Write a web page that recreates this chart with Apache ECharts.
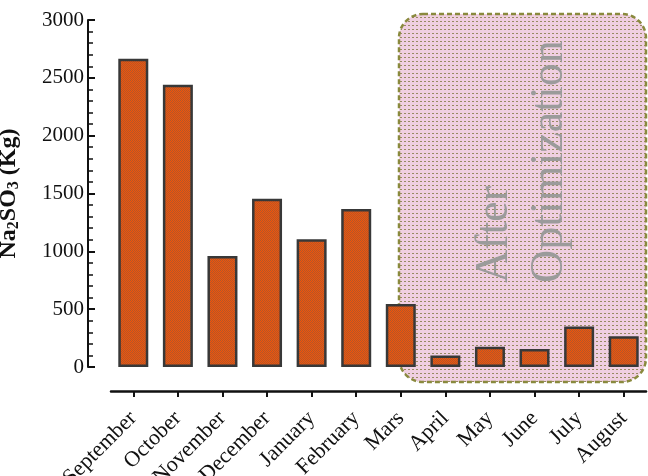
<!DOCTYPE html>
<html>
<head>
<meta charset="utf-8">
<script src="https://cdn.jsdelivr.net/npm/echarts@6/dist/echarts.min.js"></script>
<style>
  html, body { margin: 0; padding: 0; background: #fff; }
  #chart { width: 648px; height: 476px; }
</style>
</head>
<body>
<div id="chart"></div>
<script>
// Monthly sodium sulfite consumption
const months = ['September', 'October', 'November', 'December', 'January', 'February',
                'Mars', 'April', 'May', 'June', 'July', 'August'];
const na2so3Kg = [2665, 2440, 960, 1455, 1105, 1365, 545, 100, 175, 155, 350, 265];
const yTicks = [0, 500, 1000, 1500, 2000, 2500, 3000];

const SERIF = '"Liberation Serif", "Times New Roman", serif';

// Checkered orange fill for the bars
function checkerPattern() {
  const c = document.createElement('canvas');
  c.width = 2; c.height = 2;
  const g = c.getContext('2d');
  g.fillStyle = '#f0560a'; g.fillRect(0, 0, 2, 2);
  g.fillStyle = '#b4552a'; g.fillRect(0, 0, 1, 1); g.fillRect(1, 1, 1, 1);
  return c;
}

// Pink dotted fill for the highlighted period
function dotPattern() {
  const c = document.createElement('canvas');
  c.width = 4; c.height = 4;
  const g = c.getContext('2d');
  g.fillStyle = '#f0cfe1'; g.fillRect(0, 0, 4, 4);
  g.fillStyle = '#988a62'; g.fillRect(0, 1, 2, 1);
  return c;
}

const chart = echarts.init(document.getElementById('chart'), null, { renderer: 'canvas' });

chart.setOption({
  animation: false,
  backgroundColor: '#fff',
  grid: { left: 111, right: 2, top: 20, bottom: 109, containLabel: false, outerBoundsMode: 'none' },
  xAxis: {
    type: 'category',
    data: months,
    offset: 24,
    axisLine: { show: true, onZero: false, lineStyle: { color: '#111', width: 2.5 } },
    axisTick: { show: true, alignWithLabel: true, length: 6, lineStyle: { color: '#111', width: 2 } },
    axisLabel: {
      rotate: 45, margin: 24, interval: 0,
      fontFamily: SERIF, fontSize: 22, color: '#111'
    },
    splitLine: { show: false }
  },
  yAxis: {
    type: 'value',
    min: 0, max: 3000, interval: 500,
    offset: 23,
    name: '{b|Na}{s|2}{b|SO}{s|3}{b| (Kg)}',
    nameLocation: 'middle',
    nameGap: 66,
    nameRotate: 90,
    nameTextStyle: {
      rich: {
        b: { fontFamily: SERIF, fontSize: 24, fontWeight: 'bold', color: '#111' },
        s: { fontFamily: SERIF, fontSize: 16, fontWeight: 'bold', color: '#111', padding: [10, 0, 0, 0] }
      }
    },
    axisLine: { show: true, onZero: false, lineStyle: { color: '#111', width: 2 } },
    axisTick: { show: true, inside: true, length: 7, lineStyle: { color: '#111', width: 2 } },
    minorTick: { show: true, splitNumber: 5, length: 5, lineStyle: { color: '#111', width: 1.5 } },
    axisLabel: {
      margin: 4, fontFamily: SERIF, fontSize: 21, color: '#111',
      formatter: v => (yTicks.indexOf(v) >= 0 ? String(v) : '')
    },
    splitLine: { show: false }
  },
  graphic: [
    {
      type: 'rect',
      z: 0,
      shape: { x: 399, y: 14, width: 247, height: 368, r: 24 },
      style: {
        fill: { image: dotPattern(), repeat: 'repeat' },
        stroke: '#8a8a3e',
        lineWidth: 2.5,
        lineDash: [5, 3]
      }
    },
    {
      type: 'text',
      z: 1,
      x: 495, y: 283,
      rotation: Math.PI / 2,
      style: {
        text: 'After',
        fontFamily: SERIF, fontSize: 46, fill: '#9b9b9b',
        textAlign: 'left', textVerticalAlign: 'middle'
      }
    },
    {
      type: 'text',
      z: 1,
      x: 550, y: 283,
      rotation: Math.PI / 2,
      style: {
        text: 'Optimization',
        fontFamily: SERIF, fontSize: 46, fill: '#9b9b9b',
        textAlign: 'left', textVerticalAlign: 'middle'
      }
    }
  ],
  series: [{
    type: 'bar',
    data: na2so3Kg,
    barWidth: 30,
    z: 5,
    itemStyle: {
      color: { image: checkerPattern(), repeat: 'repeat' },
      borderColor: '#383838',
      borderWidth: 2.5
    }
  }]
});
</script>
</body>
</html>
